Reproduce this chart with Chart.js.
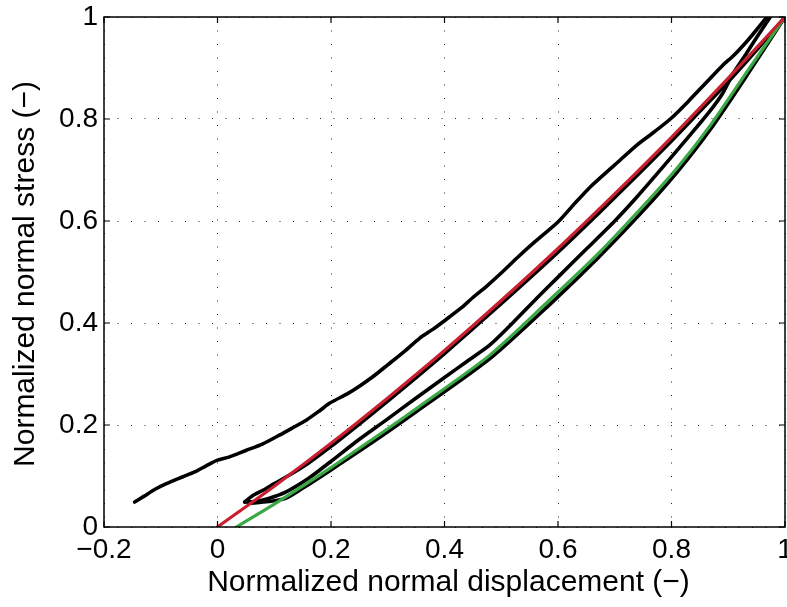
<!DOCTYPE html>
<html>
<head>
<meta charset="utf-8">
<script src="https://cdn.jsdelivr.net/npm/chart.js@4/dist/chart.umd.min.js"></script>
<style>
html,body{margin:0;padding:0;background:#fff;}
#wrap{width:787px;height:607px;position:relative;}
</style>
</head>
<body>
<div id="wrap"><canvas id="c" width="787" height="607"></canvas></div>
<script>
// ---- data ----
const xTickValues = [-0.2, 0, 0.2, 0.4, 0.6, 0.8, 1];
const xTickLabels = ['\u22120.2', '0', '0.2', '0.4', '0.6', '0.8', '1'];
const yTickValues = [0, 0.2, 0.4, 0.6, 0.8, 1];
const yTickLabels = ['0', '0.2', '0.4', '0.6', '0.8', '1'];
const xTitle = 'Normalized normal displacement (\u2212)';
const yTitle = 'Normalized normal stress (\u2212)';

// upper black branch
const upperX = [-0.146,-0.13,-0.11,-0.09,-0.062,-0.04,-0.02,0,0.02,0.05,0.08,0.109,0.13,0.157,0.18,0.198,0.23,0.25,0.273,0.3,0.33,0.356,0.38,0.397,0.43,0.45,0.474,0.5,0.53,0.56,0.6,0.63,0.66,0.7,0.739,0.77,0.8,0.83,0.86,0.89,0.91,0.935,0.95,0.968];
const upperY = [0.049,0.060,0.074,0.085,0.098,0.108,0.120,0.131,0.137,0.150,0.163,0.180,0.193,0.210,0.228,0.243,0.262,0.276,0.294,0.318,0.345,0.370,0.388,0.402,0.430,0.450,0.472,0.498,0.530,0.560,0.598,0.635,0.670,0.710,0.749,0.775,0.802,0.835,0.870,0.905,0.925,0.955,0.975,1.000];
// black branch hugging the red fit
const loopAX = [0.048,0.06,0.08,0.10,0.127,0.16,0.20,0.25,0.30,0.35,0.40,0.45,0.50,0.55,0.60,0.65,0.70,0.75,0.80,0.85,0.90,0.95,1.0];
const loopAY = [0.049,0.060,0.072,0.085,0.102,0.125,0.158,0.202,0.247,0.293,0.340,0.389,0.438,0.488,0.539,0.592,0.646,0.701,0.757,0.815,0.873,0.935,1.000];
// black branch between red and green
const loopBX = [0.048,0.065,0.09,0.121,0.16,0.198,0.25,0.30,0.35,0.40,0.44,0.48,0.52,0.563,0.60,0.65,0.70,0.739,0.785,0.83,0.868,0.89,0.908,0.93,0.95,0.974];
const loopBY = [0.049,0.050,0.056,0.069,0.095,0.127,0.172,0.212,0.253,0.293,0.325,0.357,0.400,0.449,0.490,0.545,0.600,0.647,0.706,0.765,0.816,0.850,0.888,0.925,0.960,1.000];
// black branch hugging the green fit
const loopCX = [0.055,0.09,0.12,0.15,0.20,0.273,0.35,0.48,0.59,0.67,0.745,0.81,0.87,0.935,1.0];
const loopCY = [0.046,0.050,0.056,0.076,0.112,0.166,0.226,0.330,0.441,0.527,0.614,0.696,0.782,0.889,1.000];
// red fit
const redX = [0,0.1,0.2,0.3,0.4,0.5,0.6,0.7,0.8,0.9,1.0];
const redY = [0,0.080,0.164,0.253,0.346,0.444,0.546,0.653,0.764,0.880,1.000];
// green fit
const greenX = [0.033,0.1,0.198,0.273,0.35,0.48,0.589,0.67,0.744,0.81,0.87,0.935,1.0];
const greenY = [0,0.045,0.115,0.172,0.232,0.337,0.449,0.535,0.622,0.704,0.790,0.896,1.000];

function pts(xs, ys){ return xs.map((x,i)=>({x:x, y:ys[i]})); }

const FONT = '"Liberation Sans", Arial, Helvetica, sans-serif';

const framePlugin = {
  id: 'frame',
  afterDraw(chart){
    const ctx = chart.ctx, a = chart.chartArea;
    const xs = chart.scales.x, ys = chart.scales.y;
    ctx.save();
    ctx.strokeStyle = '#000';
    ctx.lineWidth = 1.5;
    ctx.strokeRect(a.left, a.top, a.right - a.left, a.bottom - a.top);
    const tl = 6;
    ctx.beginPath();
    xTickValues.forEach(v=>{
      const p = xs.getPixelForValue(v);
      ctx.moveTo(p, a.bottom); ctx.lineTo(p, a.bottom - tl);
      ctx.moveTo(p, a.top); ctx.lineTo(p, a.top + tl);
    });
    yTickValues.forEach(v=>{
      const p = ys.getPixelForValue(v);
      ctx.moveTo(a.left, p); ctx.lineTo(a.left + tl, p);
      ctx.moveTo(a.right, p); ctx.lineTo(a.right - tl, p);
    });
    ctx.lineWidth = 1.2;
    ctx.stroke();
    ctx.fillStyle = '#000';
    ctx.font = '28px ' + FONT;
    ctx.textAlign = 'center';
    ctx.textBaseline = 'middle';
    xTickValues.forEach((v,i)=>{
      ctx.fillText(xTickLabels[i], xs.getPixelForValue(v), a.bottom + 23);
    });
    ctx.textAlign = 'right';
    yTickValues.forEach((v,i)=>{
      ctx.fillText(yTickLabels[i], a.left - 6, ys.getPixelForValue(v));
    });
    ctx.font = '30px ' + FONT;
    ctx.textAlign = 'center';
    ctx.fillText(xTitle, (a.left + a.right)/2 + 4, a.bottom + 56);
    ctx.translate(26, 274);
    ctx.rotate(-Math.PI/2);
    ctx.fillText(yTitle, 0, 0);
    ctx.restore();
  }
};

const lineDs = (label, data, color, width, order) => ({
  label, data, borderColor: color, backgroundColor: color, borderWidth: width,
  showLine: true, pointRadius: 0, pointHoverRadius: 0, fill: false, tension: 0.25, order,
  borderCapStyle: 'round', borderJoinStyle: 'round'
});

new Chart(document.getElementById('c'), {
  type: 'scatter',
  data: {
    datasets: [
      lineDs('Red fit', pts(redX, redY), '#C8202F', 3.2, 0),
      lineDs('Green fit', pts(greenX, greenY), '#3AA845', 3.2, 0),
      lineDs('Upper', pts(upperX, upperY), '#000', 3.6, 1),
      lineDs('Loop A', pts(loopAX, loopAY), '#000', 3.6, 1),
      lineDs('Loop B', pts(loopBX, loopBY), '#000', 3.6, 1),
      lineDs('Loop C', pts(loopCX, loopCY), '#000', 3.6, 1)
    ]
  },
  options: {
    responsive: false,
    animation: false,
    events: [],
    layout: { padding: { top: 17, right: 2, left: 0, bottom: 0 } },
    plugins: { legend: { display: false }, tooltip: { enabled: false } },
    scales: {
      x: {
        type: 'linear', min: -0.2, max: 1,
        afterFit(s){ s.height = 80; },
        afterBuildTicks(s){ s.ticks = xTickValues.map(v=>({value:v})); },
        ticks: { display: false },
        grid: { color: '#222', lineWidth: 1, drawTicks: false },
        border: { display: false, dash: [1, 12.5] }
      },
      y: {
        type: 'linear', min: 0, max: 1,
        afterFit(s){ s.width = 104; },
        afterBuildTicks(s){ s.ticks = yTickValues.map(v=>({value:v})); },
        ticks: { display: false },
        grid: { color: '#222', lineWidth: 1, drawTicks: false },
        border: { display: false, dash: [1, 12.5] }
      }
    }
  },
  plugins: [framePlugin]
});
</script>
</body>
</html>
